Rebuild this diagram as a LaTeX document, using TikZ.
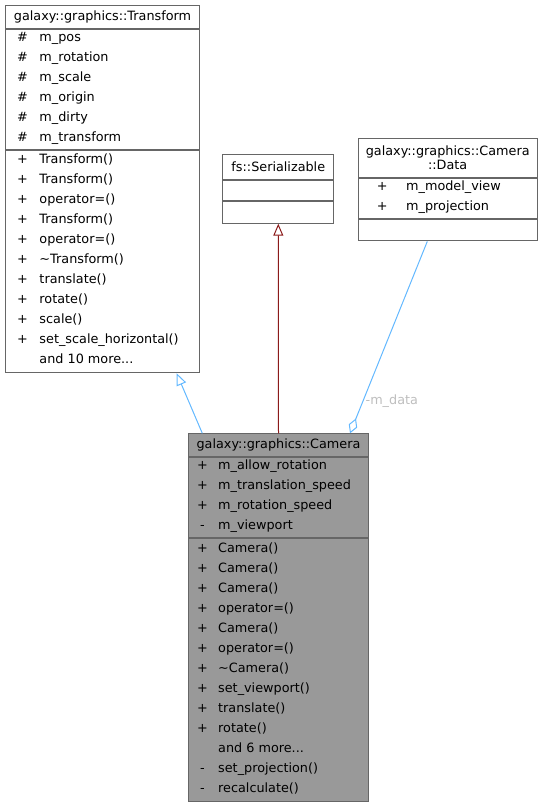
\documentclass[tikz,border=0pt]{standalone}
\usepackage{fontspec}
\setmainfont{DejaVu Sans}
\usepackage{array}
\usetikzlibrary{arrows.meta,positioning}

\definecolor{boxgray}{HTML}{666666}
\definecolor{camfill}{HTML}{999999}
\definecolor{inhblue}{HTML}{63B8FF}
\definecolor{inhred}{HTML}{8B1A1A}
\definecolor{lblgray}{HTML}{BEBEBE}
\newcommand{\umlfont}{\fontsize{12.8}{20}\selectfont}
% member rows: 20pt apart, text sits a little high in its row
\newcommand{\rowfont}{\umlfont\setbox\strutbox\hbox{\vrule height 12pt depth 8pt width 0pt}}

\begin{document}
\begin{tikzpicture}[x=1pt,y=-1pt,
    part/.style={rectangle,draw=boxgray,line width=1pt,fill=white,inner sep=0pt,
      anchor=north west,font=\rowfont},
    head/.style={part,align=center,font=\umlfont},
    maincls/.style={fill=camfill},
    inh/.style={-{Triangle[open,length=12pt,width=10pt]},line width=1pt},
    agg/.style={-{Diamond[open,length=16pt,width=9pt]},line width=1pt,draw=inhblue}]
  \useasboundingbox (0,0) rectangle (542,804);

  % base class
  \node[head,minimum width=194pt,minimum height=23pt] (trname) at (5,5)
    {galaxy::graphics::Transform};
  \node[part,minimum width=194pt,minimum height=120pt,below=0pt of trname] (trattr)
    {\begin{tabular}{@{}wc{34pt}@{}wl{160pt}@{}}
      \# & m\_pos\\ \# & m\_rotation\\ \# & m\_scale\\
      \# & m\_origin\\ \# & m\_dirty\\ \# & m\_transform
    \end{tabular}};
  \node[part,minimum width=194pt,minimum height=222.3pt,below=0pt of trattr] (trops)
    {\begin{tabular}{@{}wc{34pt}@{}wl{160pt}@{}}
      + & Transform()\\ + & Transform()\\ + & operator=()\\
      + & Transform()\\ + & operator=()\\ + & \textasciitilde Transform()\\
      + & translate()\\ + & rotate()\\ + & scale()\\
      + & set\_scale\_horizontal()\\ & and 10 more...
    \end{tabular}};

  % interface
  \node[head,minimum width=111pt,minimum height=24.7pt] (sername) at (222.3,154.3)
    {fs::Serializable};
  \node[part,minimum width=111pt,minimum height=19.7pt,below=0pt of sername] (serattr) {};
  \node[part,minimum width=111pt,minimum height=22pt,below=0pt of serattr] (serops) {};

  % nested data
  \node[head,minimum width=179pt,minimum height=39pt,font=\fontsize{12.8}{13.5}\selectfont]
    (dataname) at (357.7,137.7) {galaxy::graphics::Camera\\::Data};
  \node[part,minimum width=179pt,minimum height=39.3pt,below=0pt of dataname] (dataattr)
    {\begin{tabular}{@{}wc{48pt}@{}wl{131pt}@{}}
      + & m\_model\_view\\ + & m\_projection
    \end{tabular}};
  \node[part,minimum width=179pt,minimum height=21.7pt,below=0pt of dataattr] (dataops) {};

  % camera
  \node[head,maincls,minimum width=179.4pt,minimum height=22.7pt] (camname) at (188.3,433.3)
    {galaxy::graphics::Camera};
  \node[part,maincls,minimum width=179.4pt,minimum height=79.7pt,below=0pt of camname] (camattr)
    {\begin{tabular}{@{}wc{27.4pt}@{\hspace{2pt}}wl{150pt}@{}}
      + & m\_allow\_rotation\\ + & m\_translation\_speed\\
      + & m\_rotation\_speed\\ - & m\_viewport
    \end{tabular}};
  \node[part,maincls,minimum width=179.4pt,minimum height=263.3pt,below=0pt of camattr] (camops)
    {\begin{tabular}{@{}wc{27.4pt}@{\hspace{2pt}}wl{150pt}@{}}
      + & Camera()\\ + & Camera()\\ + & Camera()\\ + & operator=()\\
      + & Camera()\\ + & operator=()\\ + & \textasciitilde Camera()\\
      + & set\_viewport()\\ + & translate()\\ + & rotate()\\
      & and 6 more...\\ - & set\_projection()\\ - & recalculate()
    \end{tabular}};

  \draw[inh,draw=inhblue] ([xshift=14pt]camname.north west) -- ([xshift=171.7pt]trops.south west);
  \draw[inh,draw=inhred] (camname.north) -- (serops.south);
  \draw[agg] ([xshift=69.6pt]dataops.south west) --
    node[pos=0.83,right=2pt,inner sep=0pt,text=lblgray,font=\umlfont] (datalbl) {-m\_data}
    ([xshift=161.7pt]camname.north west);
\end{tikzpicture}
\end{document}
